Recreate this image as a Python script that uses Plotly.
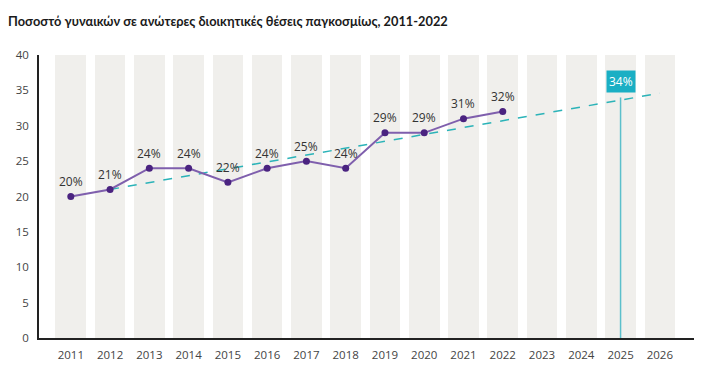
import plotly.graph_objects as go

# ---- data ----
all_years = list(range(2011, 2027))
bar_height = [40] * len(all_years)

years = [2011, 2012, 2013, 2014, 2015, 2016, 2017, 2018, 2019, 2020, 2021, 2022]
share = [20, 21, 24, 24, 22, 24, 25, 24, 29, 29, 31, 32]
labels = ["20%", "21%", "24%", "24%", "22%", "24%", "25%", "24%", "29%", "29%", "31%", "32%"]

trend_years = [2012, 2026]
trend_values = [21, 34.6]

proj_year = 2025
proj_value = 34
proj_label = "34%"

y_ticks = [0, 5, 10, 15, 20, 25, 30, 35, 40]
title = "Ποσοστό γυναικών σε ανώτερες διοικητικές θέσεις παγκοσμίως, 2011-2022"

FONT = "Open Sans"
fig = go.Figure()

fig.add_trace(go.Bar(x=all_years, y=bar_height, width=0.78,
                     marker=dict(color="#F0EFEC", line=dict(width=0)),
                     hoverinfo="skip", showlegend=False))

fig.add_trace(go.Scatter(x=trend_years, y=trend_values, mode="lines",
                         line=dict(color="#2BB3B8", width=1.5, dash="dash"),
                         hoverinfo="skip", showlegend=False))

fig.add_trace(go.Scatter(x=years, y=share, mode="lines+markers",
                         line=dict(color="#7F5FAD", width=2),
                         marker=dict(color="#4A2380", size=7),
                         showlegend=False))

for x, y, t in zip(years, share, labels):
    fig.add_annotation(x=x, y=y, text=t, showarrow=False, yshift=15,
                       font=dict(family=FONT, size=12, color="#333333"))

fig.add_shape(type="line", x0=proj_year, x1=proj_year, y0=0, y1=proj_value,
              xref="x", yref="y", line=dict(color="#5BBFCB", width=1.5))

fig.add_annotation(x=proj_year, y=proj_value, text=proj_label, showarrow=False,
                   yanchor="bottom", yshift=4, bgcolor="#1AAFC4",
                   borderpad=2, font=dict(family=FONT, size=12, color="white"))

fig.update_layout(
    width=715, height=390,
    margin=dict(l=39, r=21, t=55, b=52, autoexpand=False),
    paper_bgcolor="white", plot_bgcolor="white",
    title=dict(text="<b>" + title + "</b>", x=8 / 715, xanchor="left",
               y=1 - 22 / 390, yanchor="middle", yref="container",
               font=dict(family="Lato", size=12.8, color="#1a1a1a")),
    bargap=0,
    xaxis=dict(range=[2010.19, 2026.87], tickvals=all_years,
               ticktext=[str(y) for y in all_years], automargin=False,
               showgrid=False, zeroline=False, showline=True,
               linecolor="#222222", linewidth=1.5, ticks="",
               ticklabelstandoff=5,
               tickfont=dict(family=FONT, size=11.5, color="#444444")),
    yaxis=dict(range=[0, 40], tickvals=y_ticks, showgrid=False, zeroline=False,
               showline=True, linecolor="#222222", linewidth=1.5, ticks="",
               ticklabelstandoff=6, automargin=False,
               tickfont=dict(family=FONT, size=11.5, color="#444444")),
)

fig.write_html("out.html", config={"displayModeBar": False},
               post_script="document.body.style.margin='0';")
